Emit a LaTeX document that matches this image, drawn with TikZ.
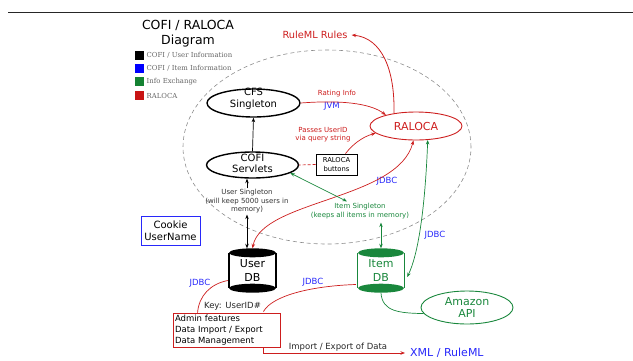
\documentclass[tikz,border=0pt]{standalone}
\usepackage{fontspec}
\setmainfont{DejaVu Sans}
\newfontfamily\legfont{DejaVu Serif}
\usetikzlibrary{arrows.meta,shapes.geometric,calc}
\definecolor{tred}{RGB}{205,30,30}
\definecolor{tblue}{RGB}{40,40,250}
\definecolor{tgreen}{RGB}{25,135,60}
\definecolor{sqblue}{RGB}{0,0,255}
\definecolor{sqgreen}{RGB}{20,130,50}
\definecolor{sqred}{RGB}{200,20,20}
\begin{document}
\begin{tikzpicture}[x=1pt,y=-1pt,
  >={Stealth[length=4.5pt,width=3.5pt]},
  oval/.style={ellipse, draw, inner sep=0pt},
  small/.style={font=\fontsize{7}{8.5}\selectfont, align=center, inner sep=0pt},
  jdbc/.style={font=\fontsize{8.5}{10}\selectfont, text=tblue, inner sep=0pt},
  conn/.style={line width=0.7pt},
  legsq/.style={minimum size=9pt, inner sep=0pt},
  legtext/.style={anchor=west, inner sep=0pt, text=black!60, font=\legfont\fontsize{6.9}{8}\selectfont},
  dbtext/.style={minimum height=44pt, inner sep=0pt, align=center, font=\fontsize{11}{14}\selectfont}
  ]
\useasboundingbox (0,0) rectangle (633,360);

% top rule
\draw[line width=0.8pt, black!85] (8,12) -- (633,12);

% title and legend
\node[inner sep=0pt, align=center, font=\fontsize{12.5}{15}\selectfont] (title) at (188,33.5) {COFI / RALOCA\\Diagram};
\node[legsq, fill=black] (k1) at (139,55) {};
\node[legtext] (l1) at (146.5,55) {COFI / User Information};
\node[legsq, fill=sqblue] (k2) at (139,68.5) {};
\node[legtext] (l2) at (146.5,68.5) {COFI / Item Information};
\node[legsq, fill=sqgreen] (k3) at (139,81.5) {};
\node[legtext] (l3) at (146.5,81.5) {Info Exchange};
\node[legsq, fill=sqred] (k4) at (139,95.5) {};
\node[legtext] (l4) at (146.5,95.5) {RALOCA};

% dashed boundary
\draw[dash pattern=on 4pt off 3pt, black!45, line width=0.6pt] (327,147) ellipse [x radius=144pt, y radius=97pt];

% main nodes
\node[oval, line width=1.4pt, minimum width=93pt, minimum height=28pt] (cfs) at (253.5,103) {};
\node[inner sep=0pt, align=center, font=\fontsize{10}{12}\selectfont] (cfst) at (253.5,99) {CFS\\Singleton};
\node[oval, line width=1.4pt, minimum width=92pt, minimum height=26pt] (cofi) at (252.5,165) {};
\node[inner sep=0pt, align=center, font=\fontsize{10}{11}\selectfont] (cofit) at (252.5,163) {COFI\\Servlets};
\node[oval, draw=tred, line width=0.9pt, minimum width=92pt, minimum height=28pt, text=tred, font=\fontsize{11}{13}\selectfont] (raloca) at (416,126) {RALOCA};
\node[draw, line width=0.8pt, minimum width=41pt, minimum height=21pt, align=center, inner sep=0pt, font=\fontsize{6.8}{9}\selectfont] (btn) at (336.5,164.5) {RALOCA\\buttons};
\node[draw=tblue, line width=0.9pt, minimum width=59pt, minimum height=29pt, align=center, inner sep=0pt, font=\fontsize{10}{11.7}\selectfont] (cookie) at (170.5,230.5) {Cookie\\UserName};
\node[dbtext, minimum width=47pt] (userdb) at (252.5,270.5) {User\\DB};
\node[dbtext, minimum width=46pt, text=tgreen] (itemdb) at (381,270.5) {Item\\DB};
\node[oval, draw=tgreen, line width=0.9pt, minimum width=92pt, minimum height=33pt, text=tgreen, align=center, font=\fontsize{11}{12}\selectfont] (amazon) at (467,307.5) {Amazon\\API};
\node[draw=tred, line width=0.9pt, text width=103pt, minimum height=34pt, inner xsep=2pt, inner ysep=0pt, align=left, font=\fontsize{8.5}{11}\selectfont] (admin) at (226.5,330) {Admin features\\Data Import / Export\\Data Management};

% cylinders
\draw[line width=1.5pt] ($(userdb.north west)+(0,4.5)$) -- ($(userdb.south west)+(0,-4.5)$);
\draw[line width=1.5pt] ($(userdb.north east)+(0,4.5)$) -- ($(userdb.south east)+(0,-4.5)$);
\fill ($(userdb.north)+(0,4.5)$) ellipse [x radius=23.5pt, y radius=4.5pt];
\fill ($(userdb.south)+(0,-4.5)$) ellipse [x radius=23.5pt, y radius=4.5pt];
\draw[tgreen, line width=1.2pt] ($(itemdb.north west)+(0,4.5)$) -- ($(itemdb.south west)+(0,-4.5)$);
\draw[tgreen, line width=1.2pt] ($(itemdb.north east)+(0,4.5)$) -- ($(itemdb.south east)+(0,-4.5)$);
\fill[tgreen] ($(itemdb.north)+(0,4.5)$) ellipse [x radius=23pt, y radius=4.5pt];
\fill[tgreen] ($(itemdb.south)+(0,-4.5)$) ellipse [x radius=23pt, y radius=4.5pt];

% text labels
\node[text=tred, inner sep=0pt, font=\fontsize{9.8}{12}\selectfont] (rules) at (315,35) {RuleML Rules};
\node[text=tblue, inner sep=0pt, anchor=west, font=\fontsize{11}{13}\selectfont] (xml) at (410,353) {XML / RuleML};
\node[small, text=tred] (rating) at (337,94) {Rating Info};
\node[jdbc] (jvm) at (332,106) {JVM};
\node[small, text=tred] (passes) at (323,134.5) {Passes UserID\\via query string};
\node[small, text=black!80] (usn) at (247,201.5) {User Singleton\\(will keep 5000 users in\\memory)};
\node[small, text=tgreen, font=\fontsize{7}{9}\selectfont] (isn) at (360,211.5) {Item Singleton\\(keeps all items in memory)};
\node[jdbc] (j1) at (387,181) {JDBC};
\node[jdbc] (j2) at (435,235) {JDBC};
\node[jdbc] (j3) at (200,283) {JDBC};
\node[jdbc] (j4) at (313,282) {JDBC};
\node[inner sep=0pt, text=black!85, font=\fontsize{8.5}{10}\selectfont] (key) at (232.5,306) {Key: UserID\#};
\node[inner sep=0pt, text=black!85, font=\fontsize{8.5}{10}\selectfont] (imp) at (338,347.5) {Import / Export of Data};

% connectors
\draw[tred, line width=0.8pt, ->] (raloca.150) .. controls (395,70) and (382,38) .. ($(rules.east)+(4,0)$);
\draw[tred, conn, ->] (cfs.east) .. controls (340,100) and (370,103) .. (raloca.160);
\draw[tred, conn, ->] ($(btn.north)+(9,0)$) .. controls (352,145) and (362,137) .. (raloca.190);
\draw[conn, ->] (cofi.north) -- (cfs.south);
\draw[tred, conn, dash pattern=on 3pt off 2pt] (btn.west) -- (cofi.east);
\draw[conn, ->] ($(usn.north)+(0,-1)$) -- (usn.north |- cofi.south);
\draw[conn, <->] ($(usn.south)+(0,1)$) -- (usn.south |- userdb.north);
\draw[tred, conn, <->] (raloca.260) .. controls (398,200) and (262,200) .. (userdb.north);
\draw[tgreen, conn, <->] (cofi.-12) -- ($(isn.north)+(-13,-2)$);
\draw[tgreen, conn, <->] ($(itemdb.north |- isn.south)+(0,3)$) -- (itemdb.north);
\draw[tgreen, conn, <->] (raloca.310) .. controls (425,210) and (418,255) .. ($(itemdb.east)+(3,6.5)$);
\draw[tgreen, conn] (itemdb.south) .. controls (382,312) and (400,313) .. (amazon.188);
\draw[tred, conn] ($(userdb.west)+(-1,10)$) .. controls (210,284) and (199,296) .. ($(admin.north west)+(25,0)$);
\draw[tred, conn] ($(admin.north east)+(-17,-1)$) .. controls (272,296) and (310,286) .. ($(itemdb.west)+(-2,14)$);
\draw[tred, conn, ->] ($(admin.south east)+(-17,0)$) |- ($(xml.west)+(-5,0)$);
\end{tikzpicture}
\end{document}
